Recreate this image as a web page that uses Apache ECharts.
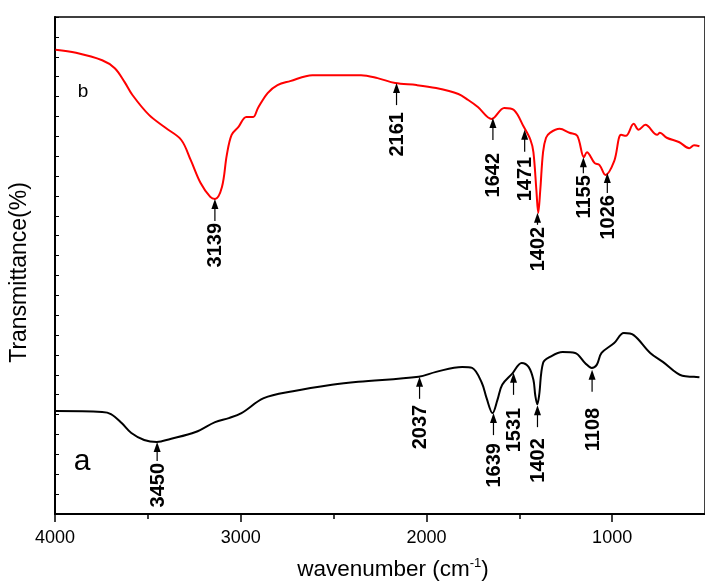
<!DOCTYPE html>
<html>
<head>
<meta charset="utf-8">
<script src="https://cdn.jsdelivr.net/npm/echarts@6/dist/echarts.min.js"></script>
<style>
  html, body { margin: 0; padding: 0; background: #fff; }
  #main { width: 705px; height: 581px; }
</style>
</head>
<body>
<div id="main"></div>
<script>
// spectrum b (red)
var bWave = [3997, 3887, 3746, 3678, 3625, 3583, 3494, 3405, 3321, 3269, 3216, 3164, 3138, 3101, 3075,
  3049, 3012, 2970, 2933, 2907, 2855, 2802, 2734, 2614, 2472, 2352, 2263, 2168, 2053, 1948,
  1828, 1775, 1723, 1649, 1581, 1529, 1476, 1440, 1424, 1408, 1398, 1387, 1372, 1356, 1335,
  1283, 1230, 1188, 1152, 1136, 1094, 1068, 1036, 989, 952, 926, 884, 858, 821, 758,
  743, 706, 638, 585, 559, 530];
var bTrans = [93.4, 92.8, 91.3, 89.7, 86.9, 84.3, 80.3, 77.7, 75.3, 71.2, 66.6, 63.8, 63.4, 65.8, 72.2,
  76.3, 77.9, 79.9, 79.9, 81.7, 84.7, 86.3, 87.1, 88.3, 88.3, 88.3, 87.7, 86.7, 86.3, 85.7,
  84.5, 83.3, 81.9, 79.5, 81.7, 81.3, 77.9, 75.3, 72.8, 65.2, 60.6, 65.2, 72.8, 75.7, 76.7,
  77.5, 76.7, 76.1, 71.8, 72.8, 70.6, 70.2, 68.2, 71.0, 76.3, 76.1, 78.5, 77.3, 78.3, 76.3,
  76.7, 75.7, 74.8, 73.6, 74.2, 74.0];

// spectrum a (black)
var aWave = [3997, 3746, 3699, 3641, 3589, 3520, 3452, 3379, 3243, 3138, 3064, 2996, 2876, 2719, 2509,
  2367, 2042, 1948, 1807, 1754, 1702, 1676, 1644, 1618, 1592, 1539, 1487, 1450, 1424, 1414,
  1403, 1393, 1372, 1335, 1267, 1199, 1146, 1110, 1083, 1057, 989, 937, 884, 795, 727,
  622, 559, 530];
var aTrans = [20.7, 20.5, 20.1, 18.3, 16.3, 14.9, 14.5, 15.1, 16.5, 18.5, 19.3, 20.3, 23.3, 24.7, 26.0,
  26.6, 27.6, 28.6, 29.6, 29.4, 26.4, 23.3, 20.3, 22.9, 26.0, 28.2, 30.4, 29.6, 27.0, 23.9,
  22.1, 23.9, 30.4, 31.6, 32.6, 32.4, 30.4, 29.4, 30.0, 32.4, 34.4, 36.4, 36.0, 32.4, 30.6,
  27.8, 27.6, 27.5];

// marked peaks and the curve value at each arrow tip
var bPeaks = [3139, 2161, 1642, 1471, 1402, 1155, 1026];
var bPeakTip = [63.4, 86.7, 79.7, 77.3, 60.6, 71.8, 68.6];
var aPeaks = [3450, 2037, 1639, 1531, 1402, 1108];
var aPeakTip = [14.5, 27.6, 20.3, 28.4, 21.9, 29.0];

// x axis ticks
var majorTicks = [1000, 2000, 3000, 4000];
var minorTicks = [1500, 2500, 3500];

// pixel gap between arrow tip and label (layout only)
var bDrop = [24, 29, 35, 27, 14, 18, 22];
var aDrop = [21, 28, 30, 35, 33, 38];

var FONT = 'Arial, "Liberation Sans", sans-serif';

function zip(xs, ys) {
  return xs.map(function (x, i) { return [x, ys[i]]; });
}

function peakRenderer(drops) {
  return function (params, api) {
    var p = api.coord([api.value(0), api.value(1)]);
    var drop = drops[params.dataIndex];
    var len = Math.min(22, drop - 2);
    return {
      type: 'group',
      children: [
        {
          type: 'line',
          shape: { x1: p[0], y1: p[1] + 9, x2: p[0], y2: p[1] + len },
          style: { stroke: '#000', lineWidth: 1.2 }
        },
        {
          type: 'polygon',
          shape: { points: [[p[0], p[1]], [p[0] - 3.5, p[1] + 10], [p[0] + 3.5, p[1] + 10]] },
          style: { fill: '#000' }
        },
        {
          type: 'text',
          x: p[0] + 1,
          y: p[1] + drop,
          rotation: Math.PI / 2,
          style: {
            text: String(api.value(0)),
            align: 'right',
            verticalAlign: 'middle',
            font: 'bold 20px ' + FONT,
            fill: '#000'
          }
        }
      ]
    };
  };
}

var chart = echarts.init(document.getElementById('main'));

var option = {
  animation: false,
  backgroundColor: '#fff',
  grid: {
    left: 48, right: -11, top: 17, bottom: 67,
    show: true, borderColor: '#000', borderWidth: 1.5
  },
  xAxis: [
    {
      type: 'value', inverse: true, min: 500, max: 4000,
      axisLine: { show: true, lineStyle: { color: '#000', width: 2 } },
      axisTick: { show: true, inside: false, length: 8, customValues: majorTicks, lineStyle: { color: '#000', width: 1.5 } },
      axisLabel: {
        show: true, customValues: majorTicks, color: '#000', fontSize: 18, fontFamily: FONT, margin: 15,
        formatter: function (v) { return String(v); }
      },
      splitLine: { show: false }
    },
    {
      type: 'value', inverse: true, min: 500, max: 4000, position: 'bottom',
      axisLine: { show: false },
      axisTick: { show: true, inside: false, length: 5, customValues: minorTicks, lineStyle: { color: '#000', width: 1.5 } },
      axisLabel: { show: false },
      splitLine: { show: false }
    }
  ],
  yAxis: {
    type: 'value', min: 0, max: 100, interval: 4,
    name: 'Transmittance(%)',
    nameLocation: 'middle', nameGap: 24, nameRotate: 90,
    nameTextStyle: { color: '#000', fontSize: 23, fontFamily: FONT, padding: [0, 14, 0, 0] },
    axisLine: { show: true, lineStyle: { color: '#000', width: 2 } },
    axisTick: { show: true, inside: true, length: 4, lineStyle: { color: '#000', width: 1 } },
    axisLabel: { show: false },
    splitLine: { show: false }
  },
  series: [
    {
      type: 'line', name: 'b', data: zip(bWave, bTrans),
      showSymbol: false, smooth: 0.35,
      lineStyle: { color: '#ff0000', width: 2 }, itemStyle: { color: '#ff0000' }
    },
    {
      type: 'line', name: 'a', data: zip(aWave, aTrans),
      showSymbol: false, smooth: 0.35,
      lineStyle: { color: '#000', width: 2 }, itemStyle: { color: '#000' }
    },
    {
      type: 'custom', coordinateSystem: 'cartesian2d', clip: false, z: 5,
      data: zip(bPeaks, bPeakTip), renderItem: peakRenderer(bDrop)
    },
    {
      type: 'custom', coordinateSystem: 'cartesian2d', clip: false, z: 5,
      data: zip(aPeaks, aPeakTip), renderItem: peakRenderer(aDrop)
    }
  ],
  graphic: [
    {
      type: 'text', x: 83, y: 92,
      style: { text: 'b', font: '19px ' + FONT, fill: '#000', align: 'center', verticalAlign: 'middle' }
    },
    {
      type: 'text', x: 82, y: 462,
      style: { text: 'a', font: '30px ' + FONT, fill: '#000', align: 'center', verticalAlign: 'middle' }
    },
    {
      type: 'text', x: 393, y: 570,
      style: {
        text: '{n|wavenumber (cm}{s|-1}{n|)}',
        align: 'center', verticalAlign: 'middle', fill: '#000',
        rich: {
          n: { fontSize: 22.5, fontFamily: FONT, color: '#000', lineHeight: 26 },
          s: { fontSize: 13, fontFamily: FONT, color: '#000', verticalAlign: 'top', lineHeight: 13 }
        }
      }
    }
  ]
};

chart.setOption(option);
</script>
</body>
</html>
